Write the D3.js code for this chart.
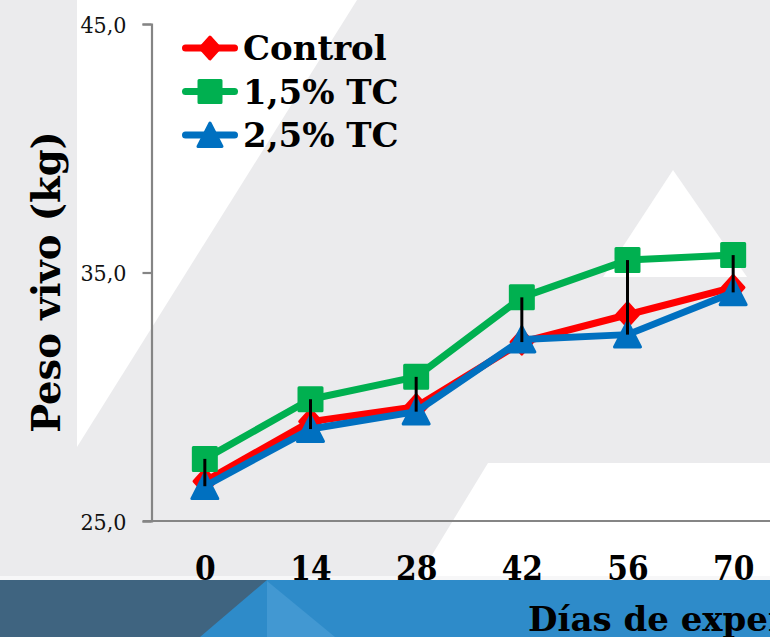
<!DOCTYPE html>
<html>
<head>
<meta charset="utf-8">
<script src="https://cdn.jsdelivr.net/npm/d3@7"></script>
<style>
  html, body { margin: 0; padding: 0; background: #ebebed; }
  svg { display: block; }
  .serif { font-family: "DejaVu Serif", serif; }
  .serif-narrow { font-family: "DejaVu Serif Condensed", "DejaVu Serif", serif; font-stretch: condensed; }
</style>
</head>
<body>
<svg id="chart" width="770" height="637"></svg>
<script>
// Live weight (kg) by day of trial, one array per treatment
const days = ["0", "14", "28", "42", "56", "70"];
const control = [26.6, 29.0, 29.6, 32.2, 33.3, 34.4];
const tc15 = [27.5, 29.9, 30.8, 34.0, 35.5, 35.7];
const tc25 = [26.4, 28.7, 29.4, 32.3, 32.5, 34.2];
const yTicks = [25, 35, 45];
const seriesNames = ["Control", "1,5% TC", "2,5% TC"];
const seriesShapes = ["diamond", "square", "triangle"];
const seriesColors = ["#ff0000", "#00b050", "#0070c0"];

const series = [control, tc15, tc25].map((values, i) => ({
  name: seriesNames[i], shape: seriesShapes[i], color: seriesColors[i], values
}));

const W = 770, H = 637;
const svg = d3.select("#chart");

// ---- slide backdrop: grey field, white facets, blue footer ----
const bg = svg.append("g");
bg.append("rect").attr("width", W).attr("height", H).attr("fill", "#ebebed");
bg.append("polygon").attr("points", "77,0 357,0 77,447").attr("fill", "#ffffff");
bg.append("polygon").attr("points", "673,170 747,277 603,277").attr("fill", "#ffffff");
bg.append("polygon").attr("points", "488,463 770,463 770,578 418,578").attr("fill", "#ffffff");
bg.append("rect").attr("x", 0).attr("y", 576).attr("width", W).attr("height", 4).attr("fill", "#f7f7f8");
bg.append("rect").attr("x", 0).attr("y", 580).attr("width", W).attr("height", 57).attr("fill", "#2e8bc9");
bg.append("polygon").attr("points", "0,580 267,580 200,637 0,637").attr("fill", "#3f6480");
bg.append("polygon").attr("points", "267,581 267,637 335,637").attr("fill", "#4298d2");

// ---- scales ----
const x = d3.scalePoint().domain(days).range([152, 786]).padding(0.5);
const y = d3.scaleLinear().domain([25, 45]).range([521, 24]);

// ---- axes ----
const axisColor = "#858585";
const yAxis = svg.append("g").attr("transform", "translate(151.5,0)")
  .call(d3.axisLeft(y).tickValues(yTicks).tickSize(9).tickPadding(16)
    .tickFormat(d => d3.format(".1f")(d).replace(".", ",")));
yAxis.select(".domain").attr("stroke", axisColor).attr("stroke-width", 2.2);
yAxis.selectAll(".tick line").attr("stroke", axisColor).attr("stroke-width", 2.2);
yAxis.selectAll(".tick text").attr("class", "serif-narrow").attr("font-size", 23)
  .attr("fill", "#111").attr("dy", "0.36em");

const xAxis = svg.append("g").attr("transform", "translate(0,521)")
  .call(d3.axisBottom(x).tickSize(0).tickPadding(0));
xAxis.select(".domain").attr("d", `M143,0H${W}`).attr("stroke", axisColor).attr("stroke-width", 2.2);
xAxis.selectAll(".tick text").attr("class", "serif-narrow").attr("font-size", 33)
  .attr("font-weight", "bold").attr("fill", "#000").attr("y", 59).attr("dy", 0);

// ---- axis titles ----
svg.append("text").attr("class", "serif")
  .attr("transform", "translate(60,282) rotate(-90)")
  .attr("text-anchor", "middle").attr("font-size", 38.5).attr("font-weight", "bold")
  .text("Peso vivo (kg)");
svg.append("text").attr("class", "serif")
  .attr("x", 528).attr("y", 631).attr("font-size", 34).attr("font-weight", "bold")
  .text("Días de experimentación");

// ---- marker shapes ----
function markerPath(shape, s) {
  if (shape === "diamond") return `M0,${-s}L${s * 0.9},0L0,${s}L${-s * 0.9},0Z`;
  if (shape === "square") return `M${-s},${-s}H${s}V${s}H${-s}Z`;
  return `M0,${-s}L${s},${s * 0.95}H${-s}Z`;
}
const markerSize = { diamond: 12, square: 11.5, triangle: 13 };

// ---- series lines and markers ----
const line = d3.line().x((d, i) => x(days[i])).y(d => y(d));
const plot = svg.append("g");
series.forEach(s => {
  const g = plot.append("g");
  g.append("path").datum(s.values).attr("d", line)
    .attr("fill", "none").attr("stroke", s.color).attr("stroke-width", 7)
    .attr("stroke-linejoin", "round");
  g.selectAll("path.mk").data(s.values).join("path").attr("class", "mk")
    .attr("transform", (d, i) => `translate(${x(days[i])},${y(d)})`)
    .attr("d", markerPath(s.shape, markerSize[s.shape]))
    .attr("fill", s.color).attr("stroke", s.color).attr("stroke-width", 3)
    .attr("stroke-linejoin", "round");
});

// ---- high-low lines across the three treatments ----
plot.selectAll("line.hl").data(days).join("line").attr("class", "hl")
  .attr("x1", d => x(d)).attr("x2", d => x(d))
  .attr("y1", (d, i) => y(d3.max(series, s => s.values[i])))
  .attr("y2", (d, i) => y(d3.min(series, s => s.values[i])))
  .attr("stroke", "#000").attr("stroke-width", 3);

// ---- legend ----
const legend = svg.append("g").attr("transform", "translate(0,48)");
series.forEach((s, i) => {
  const g = legend.append("g").attr("transform", `translate(0,${i * 43.5})`);
  g.append("line").attr("x1", 185.5).attr("x2", 234.5)
    .attr("stroke", s.color).attr("stroke-width", 7).attr("stroke-linecap", "round");
  g.append("path").attr("transform", "translate(210,0)")
    .attr("d", markerPath(s.shape, s.shape === "triangle" ? 12 : 11))
    .attr("fill", s.color).attr("stroke", s.color).attr("stroke-width", 3)
    .attr("stroke-linejoin", "round");
  g.append("text").attr("class", "serif").attr("x", 243).attr("y", 12)
    .attr("font-size", 34).attr("font-weight", "bold").text(s.name);
});
</script>
</body>
</html>
